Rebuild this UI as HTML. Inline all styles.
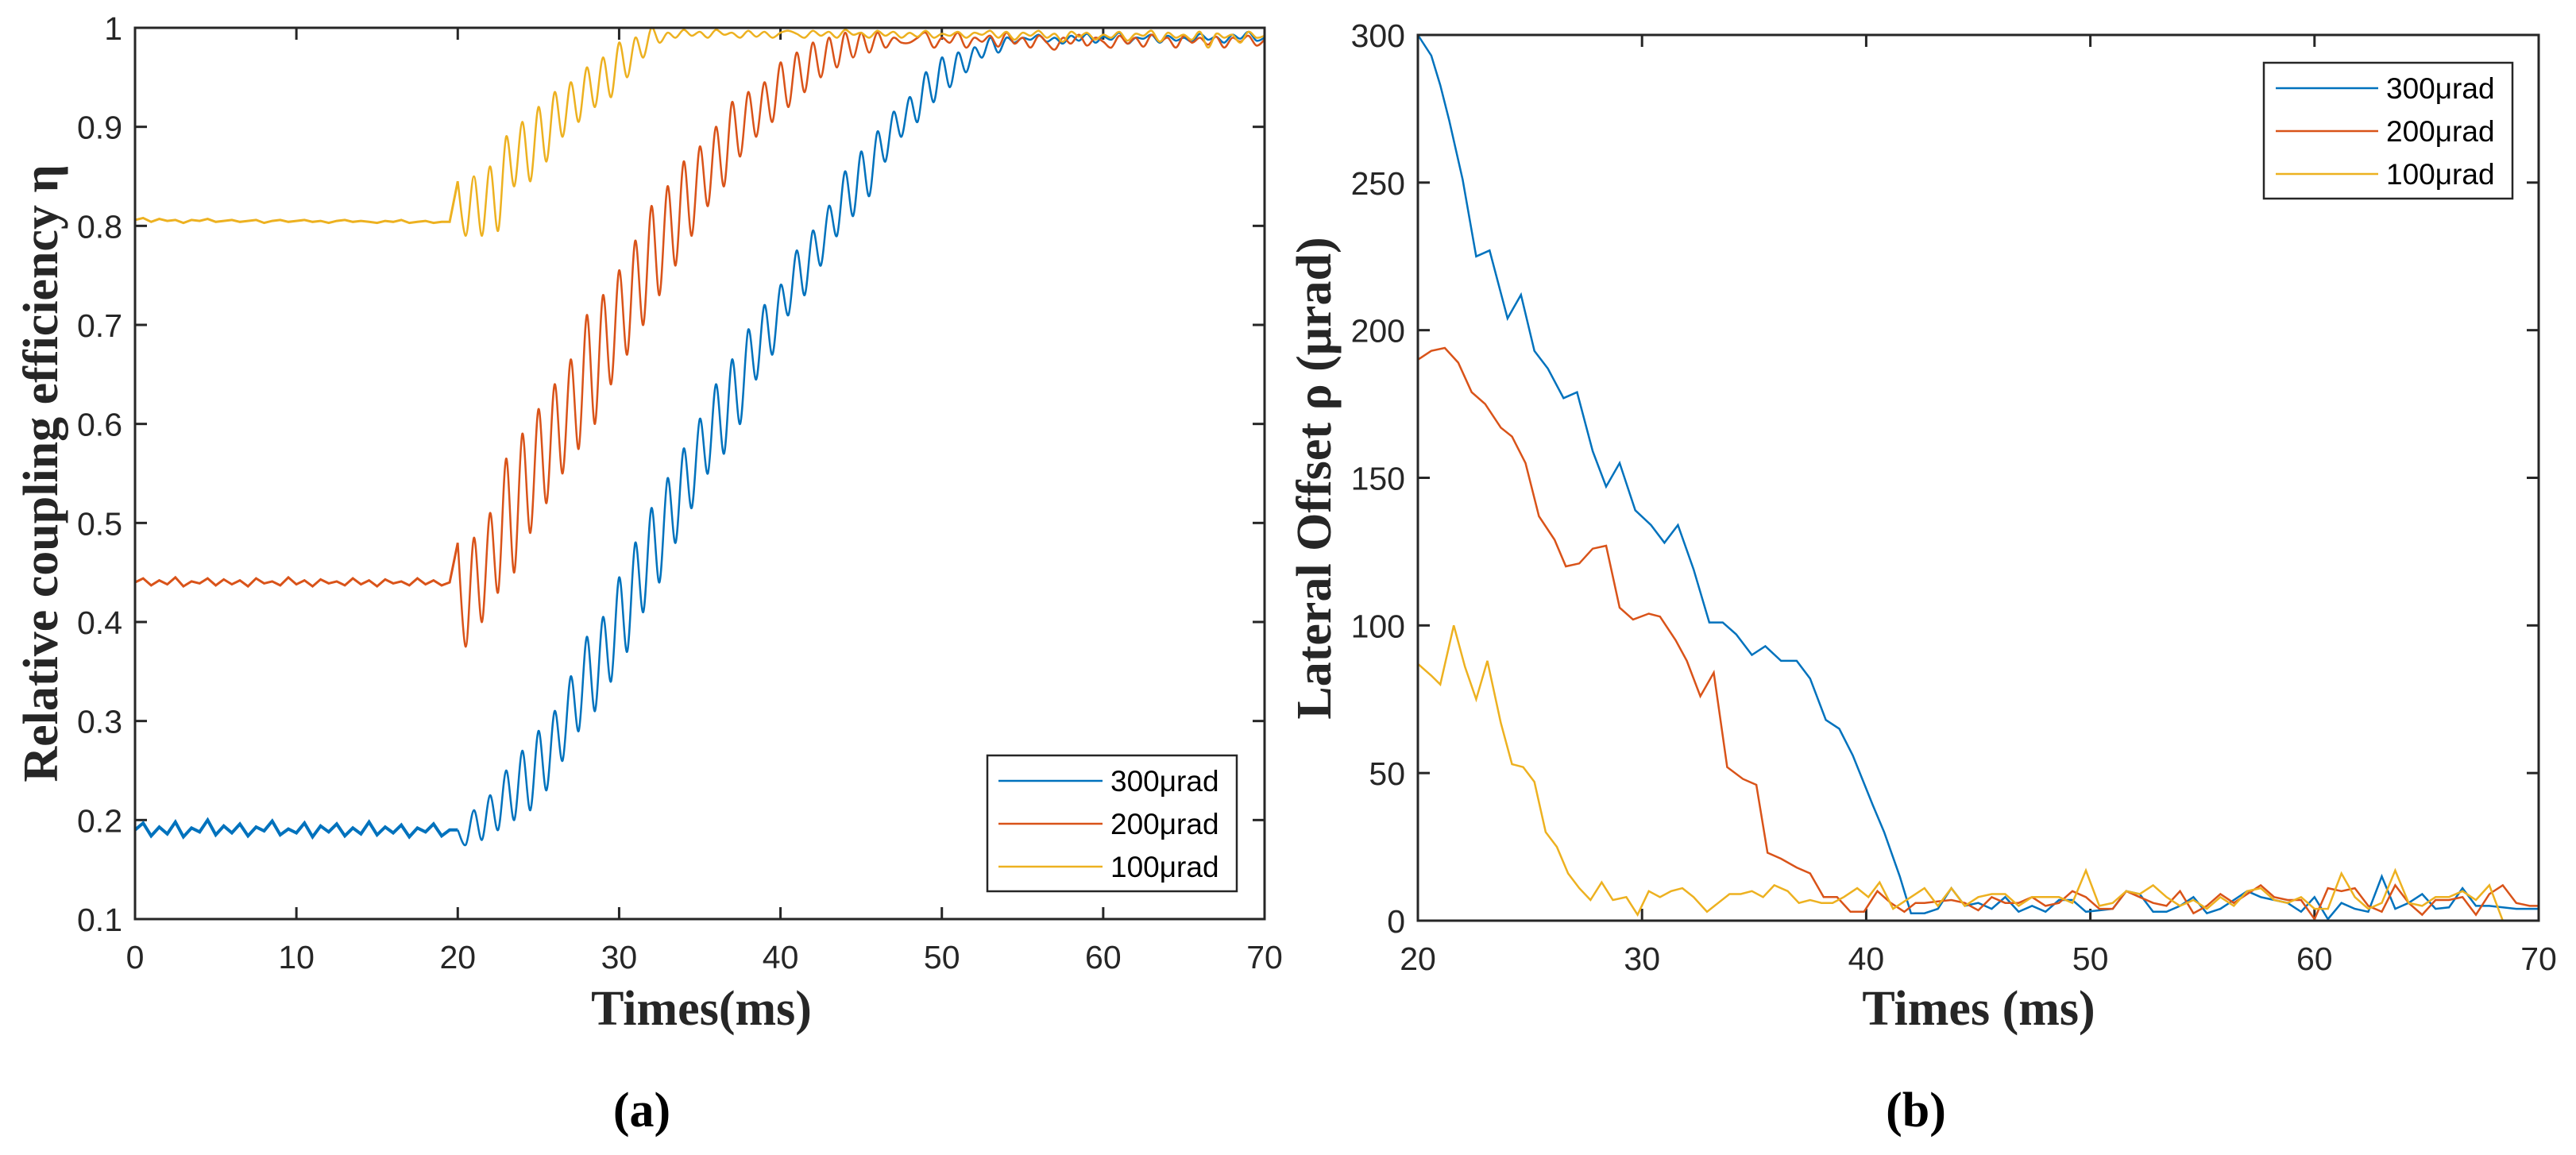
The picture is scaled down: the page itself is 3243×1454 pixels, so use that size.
<!DOCTYPE html>
<html><head><meta charset="utf-8">
<style>
html,body{margin:0;padding:0;background:#fff;}
svg{display:block;}
.tk{font-family:"Liberation Sans",sans-serif;font-size:41px;fill:#262626;}
.ttl{font-family:"Liberation Serif",serif;font-weight:bold;font-size:62px;fill:#262626;}
.lg{font-family:"Liberation Sans",sans-serif;font-size:37px;fill:#000;}
.cap{font-family:"Liberation Serif",serif;font-weight:bold;font-size:62px;fill:#000;}
</style></head>
<body>
<svg id="chart" width="3243" height="1454" viewBox="0 0 3243 1454" xmlns="http://www.w3.org/2000/svg">
<g id="pa"></g>
<g id="pb"></g>
</svg>
<script>
// ---------- Panel (a) data ----------
const aXTicks=[0,10,20,30,40,50,60,70];
const aYTicks=[0.1,0.2,0.3,0.4,0.5,0.6,0.7,0.8,0.9,1];
const aYTickLabels=["0.1","0.2","0.3","0.4","0.5","0.6","0.7","0.8","0.9","1"];
const baseTimes=[0,0.5,1,1.5,2,2.5,3,3.5,4,4.5,5,5.5,6,6.5,7,7.5,8,8.5,9,9.5,10,10.5,11,11.5,12,12.5,13,13.5,14,14.5,15,15.5,16,16.5,17,17.5,18,18.5,19,19.5];
const baseBlue=[0.19,0.197,0.184,0.193,0.186,0.198,0.183,0.192,0.188,0.2,0.185,0.194,0.187,0.196,0.184,0.193,0.189,0.199,0.185,0.191,0.187,0.197,0.183,0.194,0.188,0.196,0.184,0.192,0.186,0.198,0.185,0.193,0.187,0.195,0.183,0.192,0.188,0.196,0.184,0.19];
const baseRed=[0.44,0.444,0.437,0.442,0.438,0.445,0.436,0.441,0.439,0.444,0.437,0.443,0.438,0.442,0.436,0.444,0.439,0.441,0.437,0.445,0.438,0.442,0.436,0.443,0.439,0.441,0.437,0.444,0.438,0.442,0.436,0.443,0.439,0.441,0.437,0.444,0.438,0.442,0.437,0.44];
const baseYellow=[0.806,0.808,0.804,0.807,0.805,0.806,0.803,0.806,0.805,0.807,0.804,0.805,0.806,0.804,0.805,0.806,0.803,0.805,0.806,0.804,0.805,0.806,0.804,0.805,0.803,0.805,0.806,0.804,0.805,0.804,0.803,0.805,0.804,0.806,0.803,0.804,0.805,0.803,0.804,0.804];
const riseTimes=[20,20.5,21,21.5,22,22.5,23,23.5,24,24.5,25,25.5,26,26.5,27,27.5,28,28.5,29,29.5,30,30.5,31,31.5,32,32.5,33,33.5,34,34.5,35,35.5,36,36.5,37,37.5,38,38.5,39,39.5,40,40.5,41,41.5,42,42.5,43,43.5,44,44.5,45,45.5,46,46.5,47,47.5,48,48.5,49,49.5,50,50.5,51,51.5,52,52.5,53,53.5,54,54.5,55,55.5,56,56.5,57,57.5,58,58.5,59,59.5,60,60.5,61,61.5,62,62.5,63,63.5,64,64.5,65,65.5,66,66.5,67,67.5,68,68.5,69,69.5,70];
const riseBlue=[0.19,0.175,0.21,0.18,0.225,0.19,0.25,0.2,0.27,0.21,0.29,0.23,0.31,0.26,0.345,0.29,0.385,0.31,0.405,0.34,0.445,0.37,0.48,0.41,0.515,0.44,0.545,0.48,0.575,0.515,0.605,0.55,0.64,0.57,0.665,0.6,0.695,0.645,0.72,0.67,0.74,0.71,0.775,0.73,0.795,0.76,0.82,0.79,0.855,0.81,0.875,0.83,0.895,0.865,0.915,0.89,0.93,0.905,0.955,0.925,0.97,0.94,0.975,0.955,0.98,0.97,0.99,0.975,0.99,0.985,0.99,0.988,0.993,0.986,0.99,0.984,0.992,0.987,0.994,0.985,0.991,0.988,0.995,0.984,0.99,0.989,0.993,0.985,0.992,0.987,0.99,0.986,0.994,0.988,0.991,0.985,0.993,0.989,0.996,0.987,0.99];
const riseRed=[0.48,0.375,0.485,0.4,0.51,0.43,0.565,0.45,0.59,0.49,0.615,0.52,0.64,0.55,0.665,0.575,0.71,0.6,0.73,0.64,0.755,0.67,0.785,0.7,0.82,0.73,0.84,0.76,0.865,0.79,0.88,0.82,0.9,0.84,0.925,0.87,0.935,0.89,0.945,0.905,0.965,0.92,0.975,0.935,0.985,0.95,0.99,0.96,0.995,0.97,0.995,0.975,0.995,0.98,0.99,0.985,0.985,0.99,0.995,0.98,0.99,0.985,0.995,0.98,0.99,0.986,0.992,0.981,0.995,0.984,0.99,0.98,0.992,0.985,0.978,0.99,0.984,0.993,0.982,0.99,0.986,0.98,0.992,0.984,0.99,0.981,0.993,0.986,0.99,0.98,0.992,0.985,0.99,0.983,0.991,0.98,0.99,0.986,0.992,0.982,0.988];
const riseYellow=[0.845,0.79,0.85,0.79,0.86,0.795,0.89,0.84,0.905,0.845,0.92,0.865,0.935,0.89,0.945,0.905,0.96,0.92,0.97,0.93,0.985,0.95,0.99,0.97,1.0,0.985,0.995,0.99,0.998,0.992,0.996,0.99,0.998,0.993,0.995,0.99,0.997,0.991,0.996,0.99,0.995,0.997,0.994,0.99,0.997,0.992,0.996,0.99,0.998,0.993,0.995,0.99,0.997,0.992,0.996,0.99,0.995,0.991,0.997,0.99,0.994,0.992,0.996,0.99,0.995,0.993,0.997,0.99,0.996,0.988,0.995,0.992,0.997,0.99,0.994,0.986,0.996,0.991,0.995,0.988,0.993,0.99,0.996,0.987,0.994,0.992,0.997,0.986,0.995,0.99,0.993,0.988,0.996,0.98,0.994,0.99,0.993,0.985,0.996,0.99,0.992];

// ---------- Panel (b) data ----------
const bXTicks=[20,30,40,50,60,70];
const bYTicks=[0,50,100,150,200,250,300];
const bYTickLabels=["0","50","100","150","200","250","300"];
const bBlueT=[20,20.6,21,21.4,22,22.6,23.2,24,24.6,25.2,25.8,26.5,27.1,27.8,28.4,29,29.7,30.4,31,31.6,32.3,33,33.6,34.2,34.9,35.5,36.2,36.9,37.5,38.2,38.8,39.4,40.3,40.8,41.5,42];
const bBlueV=[300,293,283,271,251,225,227,204,212,193,187,177,179,159,147,155,139,134,128,134,119,101,101,97,90,93,88,88,82,68,65,56,39,30,15,2.5];
const bRedT=[20,20.6,21.2,21.8,22.4,23,23.7,24.2,24.8,25.4,26.1,26.6,27.2,27.8,28.4,29,29.6,30.3,30.8,31.5,32,32.6,33.2,33.8,34.5,35.1,35.6,36.2,36.9,37.5,38.1,38.7,39.3,39.9,40.5,41.1,41.7,42.2];
const bRedV=[190,193,194,189,179,175,167,164,155,137,129,120,121,126,127,106,102,104,103,95,88,76,84,52,48,46,23,21,18,16,8,8,3,3,10,6,3,6];
const bYelT=[20,20.6,21,21.6,22.1,22.6,23.1,23.7,24.2,24.7,25.2,25.7,26.2,26.7,27.2,27.7,28.2,28.7,29.3,29.8,30.3,30.8,31.3,31.8,32.3,32.9,33.4,33.9,34.4,34.9,35.4,35.9,36.5,37,37.5,38,38.5,39,39.6,40.1,40.6,41.2];
const bYelV=[87,83,80,100,86,75,88,67,53,52,47,30,25,16,11,7,13,7,8,2,10,8,10,11,8,3,6,9,9,10,8,12,10,6,7,6,6,8,11,8,13,4];
const tailT=[42.6,43.2,43.8,44.4,45,45.6,46.2,46.8,47.4,48,48.6,49.2,49.8,50.4,51,51.6,52.2,52.8,53.4,54,54.6,55.2,55.8,56.4,57,57.6,58.2,58.8,59.4,60,60.6,61.2,61.8,62.4,63,63.6,64.2,64.8,65.4,66,66.6,67.2,67.8,68.4,69,69.6,70];
const tailBlue=[2.5,4,11,5,6,4,8,3,5,3,7,7,3,3.5,4,10,9,3,3,5,8,2.5,4,7,10,8,7,6,3,8,0.5,6,4,3,15,4,6,9,4,4.5,11,5,5,4.5,4,4,4];
const tailRed=[6,6.5,7,6,3.5,8,6,6,8,5,6,10,8,4,4,10,8,6,5,10,2.5,5,9,6,9,12,8,7,7,0.5,11,10,11,5,3,12,6,2,7,7,8,2,9,12,6,5,5];
const tailYel=[11,5,11,5,8,9,9,5,8,8,8,6,17,5,6,10,9,12,8,5,7,4,8,5,10,11,7,6,8,4,4,16,8,4,6,17,6,5,8,8,10,7,12,0,0,0,0];

const NS="http://www.w3.org/2000/svg";
const COLORS={blue:"#0072BD",red:"#D95319",yellow:"#EDB120"};
function mk(tag,attrs,parent){const e=document.createElementNS(NS,tag);for(const k in attrs)e.setAttribute(k,attrs[k]);parent.appendChild(e);return e;}
function smoothPath(pts){
  let d="M"+pts[0][0].toFixed(1)+","+pts[0][1].toFixed(1);
  for(let i=0;i<pts.length-1;i++){
    const p0=pts[i-1]||pts[i],p1=pts[i],p2=pts[i+1],p3=pts[i+2]||p2;
    const c1=[p1[0]+(p2[0]-p0[0])/6,p1[1]+(p2[1]-p0[1])/6];
    const c2=[p2[0]-(p3[0]-p1[0])/6,p2[1]-(p3[1]-p1[1])/6];
    d+="C"+c1[0].toFixed(1)+","+c1[1].toFixed(1)+" "+c2[0].toFixed(1)+","+c2[1].toFixed(1)+" "+p2[0].toFixed(1)+","+p2[1].toFixed(1);
  }
  return d;
}
function linePath(pts){return "M"+pts.map(p=>p[0].toFixed(1)+","+p[1].toFixed(1)).join("L");}

function axes(g,cfg){
  const {x0,x1,y0,y1,xd,yd,xt,yt,ytl}=cfg;
  const sx=v=>x0+(v-xd[0])/(xd[1]-xd[0])*(x1-x0);
  const sy=v=>y1-(v-yd[0])/(yd[1]-yd[0])*(y1-y0);
  const ticks=mk("g",{},g);
  
  
  xt.forEach(v=>{
    const x=sx(v);
    mk("line",{x1:x,y1:y1,x2:x,y2:y1-15,stroke:"#262626","stroke-width":3},ticks);
    mk("line",{x1:x,y1:y0,x2:x,y2:y0+15,stroke:"#262626","stroke-width":3},ticks);
    const t=mk("text",{x:x,y:y1+62,"text-anchor":"middle",class:"tk"},g);
    
    
    t.textContent=String(v);
  });
  yt.forEach((v,i)=>{
    const y=sy(v);
    mk("line",{x1:x0,y1:y,x2:x0+15,y2:y,stroke:"#262626","stroke-width":3},ticks);
    mk("line",{x1:x1,y1:y,x2:x1-15,y2:y,stroke:"#262626","stroke-width":3},ticks);
    const t=mk("text",{x:x0-16,y:y+15,"text-anchor":"end",class:"tk"},g);
    
    
    t.textContent=ytl[i];
  });
  return {sx,sy};
}
function frame(g,cfg){
  const r=mk("rect",{x:cfg.x0,y:cfg.y0,width:cfg.x1-cfg.x0,height:cfg.y1-cfg.y0,fill:"none",stroke:"#262626","stroke-width":3},g);
  
  
}
function legend(g,bx,by,bw,bh,rows,lx0,lx1,tx){
  const lg=mk("g",{},g);
  
  
  mk("rect",{x:bx,y:by,width:bw,height:bh,fill:"#fff",stroke:"#262626","stroke-width":2.5},lg);
  rows.forEach(r=>{
    const e=mk("g",{},lg);
    
    
    mk("line",{x1:lx0,y1:r.y,x2:lx1,y2:r.y,stroke:r.c,"stroke-width":2.5},e);
    const t=mk("text",{x:tx,y:r.y+13,class:"lg"},e);
    t.textContent=r.label;
  });
}

// ---- Panel A ----
const ga=document.getElementById("pa");
const cfgA={x0:170,x1:1592,y0:35,y1:1157,xd:[0,70],yd:[0.1,1],xt:aXTicks,yt:aYTicks,ytl:aYTickLabels};
const A=axes(ga,cfgA);
[["blue",baseBlue,riseBlue],["red",baseRed,riseRed],["yellow",baseYellow,riseYellow]].forEach(([c,b,r])=>{
  const bp=baseTimes.map((t,i)=>[A.sx(t),A.sy(b[i])]);
  const rp=riseTimes.map((t,i)=>[A.sx(t),A.sy(r[i])]);
  const p1=mk("path",{d:linePath(bp.concat([rp[0]])),fill:"none",stroke:COLORS[c],"stroke-width":c==="blue"?4:3},ga);
  
  
  const p2=mk("path",{d:smoothPath(rp),fill:"none",stroke:COLORS[c],"stroke-width":2.5},ga);
  
  
});
frame(ga,cfgA);
legend(ga,1243,951,314,171,[{y:983,c:COLORS.blue,label:"300μrad"},{y:1037,c:COLORS.red,label:"200μrad"},{y:1091,c:COLORS.yellow,label:"100μrad"}],1257,1388,1398);
let t;
t=mk("text",{x:883,y:1290,"text-anchor":"middle",class:"ttl"},ga);


t.textContent="Times(ms)";
t=mk("text",{x:0,y:0,"text-anchor":"middle",class:"ttl",transform:"translate(72,596) rotate(-90)"},ga);


t.textContent="Relative coupling efficiency η";
t=mk("text",{x:808,y:1418,"text-anchor":"middle",class:"cap"},ga);


t.textContent="(a)";

// ---- Panel B ----
const gb=document.getElementById("pb");
const cfgB={x0:1785,x1:3196,y0:44,y1:1159,xd:[20,70],yd:[0,300],xt:bXTicks,yt:bYTicks,ytl:bYTickLabels};
const B=axes(gb,cfgB);
[["blue",bBlueT,bBlueV,tailBlue],["red",bRedT,bRedV,tailRed],["yellow",bYelT,bYelV,tailYel]].forEach(([c,ts,vs,tail])=>{
  const pts=ts.map((x,i)=>[B.sx(x),B.sy(vs[i])]).concat(tailT.map((x,i)=>[B.sx(x),B.sy(tail[i])]));
  const p=mk("path",{d:linePath(pts),fill:"none",stroke:COLORS[c],"stroke-width":2.5},gb);
  
  
});
frame(gb,cfgB);
legend(gb,2850,79,313,171,[{y:111,c:COLORS.blue,label:"300μrad"},{y:165,c:COLORS.red,label:"200μrad"},{y:219,c:COLORS.yellow,label:"100μrad"}],2865,2994,3004);
t=mk("text",{x:2491,y:1290,"text-anchor":"middle",class:"ttl"},gb);


t.textContent="Times (ms)";
t=mk("text",{x:0,y:0,"text-anchor":"middle",class:"ttl",transform:"translate(1675,602) rotate(-90)"},gb);


t.textContent="Lateral Offset ρ (μrad)";
t=mk("text",{x:2412,y:1418,"text-anchor":"middle",class:"cap"},gb);


t.textContent="(b)";
</script>
</body></html>
